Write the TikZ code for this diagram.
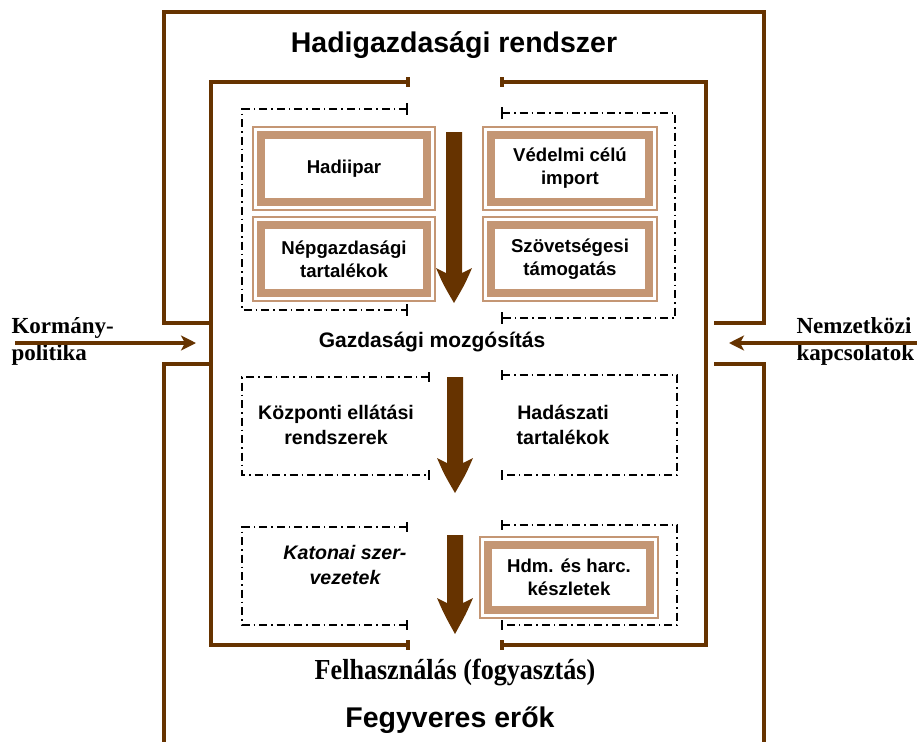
\documentclass[tikz,border=0pt]{standalone}
\usepackage{fontspec}
\setmainfont{Liberation Sans}
\newfontfamily\serifb{Liberation Serif}
\newfontfamily\serifc{Liberation Serif}[FakeStretch=0.9]
\usetikzlibrary{arrows.meta}
\definecolor{frame}{RGB}{102,51,0}
\definecolor{tanc}{RGB}{196,150,116}
\newcommand\hgarrow[4]{% cx, top, headstart, tip
  \fill[frame] ({#1-8},#2) -- ({#1+8},#2) -- ({#1+8},{#3+5}) -- ({#1+18},#3)
    .. controls ({#1+11},{#3+16}) .. ({#1},#4)
    .. controls ({#1-11},{#3+16}) .. ({#1-18},#3) -- ({#1-8},{#3+5}) -- cycle;}
\tikzset{
  brownline/.style={draw=frame, line width=3.3pt},
  endtick/.style={draw=frame, line width=4pt},
  dashbox/.style={draw=black, line width=1.4pt, dash pattern=on 8pt off 4pt on 1.5pt off 4pt},
  dtick/.style={draw=black, line width=1.6pt},
  tanbox/.style={draw=tanc, line width=7.7pt, inner sep=0pt, align=center,
    font=\bfseries\fontsize{18.6}{23}\selectfont},
  tanouter/.style={draw=tanc, line width=1.2pt},
  midtext/.style={align=center, font=\bfseries\fontsize{19.6}{25}\selectfont},
  sidetext/.style={align=left, font=\serifb\bfseries\fontsize{23}{27}\selectfont},
  bigtitle/.style={font=\bfseries\fontsize{28.5}{32}\selectfont},
  sidearrow/.style={draw=frame, line width=3.3pt, -{Stealth[length=15pt,width=15pt,inset=4pt]}}
}
\begin{document}
\begin{tikzpicture}[x=1pt,y=-1pt]
\useasboundingbox (0,0) rectangle (917,742);
% outer frame
\draw[brownline] (211,323) -- (164,323) -- (164,12) -- (764,12) -- (764,323) -- (714,323);
\draw[brownline] (211,364) -- (164,364) -- (164,742);
\draw[brownline] (714,364) -- (764,364) -- (764,742);
% inner frame
\draw[brownline] (408,82) -- (211,82) -- (211,645) -- (408,645);
\draw[brownline] (502,82) -- (706,82) -- (706,645) -- (502,645);
\draw[endtick] (408,77) -- (408,87);
\draw[endtick] (502,77) -- (502,87);
\draw[endtick] (408,640) -- (408,650);
\draw[endtick] (502,640) -- (502,650);
% dash-dot groups
\draw[dashbox] (407,109) -- (242,109) -- (242,310) -- (407,310);
\draw[dtick] (407,103) -- (407,115); \draw[dtick] (407,304) -- (407,316);
\draw[dashbox] (502,113) -- (675,113) -- (675,318) -- (502,318);
\draw[dtick] (502,107) -- (502,119); \draw[dtick] (502,312) -- (502,324);
\draw[dashbox] (429,377) -- (242,377) -- (242,475) -- (429,475);
\draw[dtick] (429,372) -- (429,382); \draw[dtick] (429,470) -- (429,480);
\draw[dashbox] (502,375) -- (677,375) -- (677,475) -- (502,475);
\draw[dtick] (502,370) -- (502,380); \draw[dtick] (502,470) -- (502,480);
\draw[dashbox] (407,527) -- (242,527) -- (242,625) -- (407,625);
\draw[dtick] (407,522) -- (407,532); \draw[dtick] (407,620) -- (407,630);
\draw[dashbox] (502,525) -- (677,525) -- (677,625) -- (502,625);
\draw[dtick] (502,520) -- (502,530); \draw[dtick] (502,620) -- (502,630);
% big arrows
\hgarrow{454}{132}{268}{303}
\hgarrow{455}{377}{458}{493}
\hgarrow{455}{535}{598}{634}
% titles
\node[bigtitle] (title) at (454,45) {Hadigazdasági rendszer};
\node[bigtitle] (forces) at (450,720) {Fegyveres erők};
\node[font=\serifc\bfseries\fontsize{29}{32}\selectfont] (use) at (455,672) {Felhasználás (fogyasztás)};
\node[midtext, font=\bfseries\fontsize{21}{25}\selectfont] (mob) at (432,342) {Gazdasági mozgósítás};
% tan boxes
\node[tanbox, minimum width=166.4pt, minimum height=67.4pt] (hadiipar) at (344,168.5) {Hadiipar};
\node[tanbox, minimum width=166.4pt, minimum height=68.4pt] (nepg) at (344,259) {Népgazdasági\\tartalékok};
\node[tanbox, minimum width=158.4pt, minimum height=67.4pt] (vedelmi) at (570,168.5) {Védelmi célú\\import};
\node[tanbox, minimum width=158.4pt, minimum height=68.4pt] (szov) at (570,259) {Szövetségesi\\támogatás};
\node[tanbox, minimum width=162.4pt, minimum height=65.4pt] (hdm) at (569,577.5) {Hdm. és harc.\\készletek};
\foreach \b in {hadiipar,nepg,vedelmi,szov,hdm}
  \draw[tanouter] ([shift={(-3.9pt,-3.9pt)}]\b.south west) rectangle ([shift={(3.9pt,3.9pt)}]\b.north east);
% plain texts
\node[midtext] (kozp) at (336,425) {Központi ellátási\\rendszerek};
\node[midtext] (hadasz) at (563,425) {Hadászati\\tartalékok};
\node[midtext, font=\bfseries\itshape\fontsize{19.6}{25}\selectfont] (katonai) at (345,564.5) {Katonai szer-\\vezetek};
% side labels and arrows
\node[sidetext, anchor=west] (korm) at (8,341) {Kormány-\\politika};
\node[sidetext, anchor=west] (nemz) at (793,341) {Nemzetközi\\kapcsolatok};
\coordinate (lstart) at (15,343);
\coordinate (ltip) at (196,343);
\coordinate (rstart) at (917,343);
\coordinate (rtip) at (729,343);
\draw[sidearrow] (lstart) -- (ltip);
\draw[sidearrow] (rstart) -- (rtip);
\end{tikzpicture}
\end{document}
